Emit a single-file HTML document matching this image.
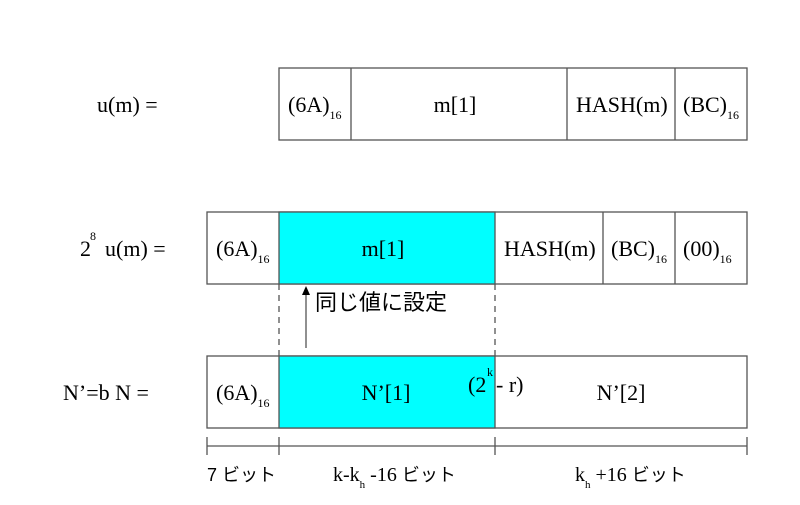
<!DOCTYPE html>
<html><head><meta charset="utf-8"><style>
html,body{margin:0;padding:0;background:#fff;}
svg text{font-family:"Liberation Serif","Noto Serif CJK SC",serif;fill:#000;}
.jp{font-family:"Liberation Sans","Noto Sans CJK JP",sans-serif;}
</style></head><body>
<svg width="800" height="500" xmlns="http://www.w3.org/2000/svg">
<g stroke="#555" stroke-width="1.3" fill="none">
<rect x="279" y="68" width="468" height="72" fill="#fff"/>
<line x1="351" y1="68" x2="351" y2="140"/><line x1="567" y1="68" x2="567" y2="140"/><line x1="675" y1="68" x2="675" y2="140"/>
<rect x="207" y="212" width="540" height="72" fill="#fff"/>
<rect x="279" y="212" width="216" height="72" fill="#00ffff"/>
<line x1="603" y1="212" x2="603" y2="284"/><line x1="675" y1="212" x2="675" y2="284"/>
<rect x="207" y="356" width="540" height="72" fill="#fff"/>
<rect x="279" y="356" width="216" height="72" fill="#00ffff"/>
<line x1="279" y1="284" x2="279" y2="356" stroke-dasharray="6,5"/>
<line x1="495" y1="284" x2="495" y2="356" stroke-dasharray="6,5"/>
<line x1="207" y1="446" x2="747" y2="446"/>
<line x1="207" y1="437" x2="207" y2="455"/><line x1="279" y1="437" x2="279" y2="455"/>
<line x1="495" y1="437" x2="495" y2="455"/><line x1="747" y1="437" x2="747" y2="455"/>
<line x1="306" y1="348" x2="306" y2="294"/>
</g>
<polygon points="306,286 302,295 310,295" fill="#000"/>
<g style="font-size:22px">
<text x="97" y="112">u(m) =</text>
<text x="288" y="112">(6A)<tspan style="font-size:12px" dy="7">16</tspan></text>
<text x="455" y="112" text-anchor="middle">m[1]</text>
<text x="576" y="112">HASH(m)</text>
<text x="683" y="112">(BC)<tspan style="font-size:12px" dy="7">16</tspan></text>
<text x="80" y="256">2</text><text x="90" y="240" style="font-size:12px">8</text><text x="105" y="256">u(m) =</text>
<text x="216" y="256">(6A)<tspan style="font-size:12px" dy="7">16</tspan></text>
<text x="383" y="256" text-anchor="middle">m[1]</text>
<text x="504" y="256">HASH(m)</text>
<text x="611" y="256">(BC)<tspan style="font-size:12px" dy="7">16</tspan></text>
<text x="683" y="256">(00)<tspan style="font-size:12px" dy="7">16</tspan></text>
<text x="63" y="400">N’=b N =</text>
<text x="216" y="400">(6A)<tspan style="font-size:12px" dy="7">16</tspan></text>
<text x="386" y="400" text-anchor="middle">N’[1]</text>
<text x="468" y="392">(2</text><text x="487" y="376" style="font-size:12px">k</text><text x="496" y="392">- r)</text>
<text x="621" y="400" text-anchor="middle">N’[2]</text>
</g>
<text class="jp" x="315" y="310" style="font-size:22px">同じ値に設定</text>
<text x="207" y="481" class="jp" style="font-size:18px">7 ビット</text>
<text x="333" y="481" style="font-size:20px">k-k<tspan style="font-size:11px" dy="7">h</tspan><tspan dy="-7"> -16 </tspan><tspan class="jp" style="font-size:18px">ビット</tspan></text>
<text x="575" y="481" style="font-size:20px">k<tspan style="font-size:11px" dy="7">h</tspan><tspan dy="-7"> +16 </tspan><tspan class="jp" style="font-size:18px">ビット</tspan></text>
</svg>
</body></html>
